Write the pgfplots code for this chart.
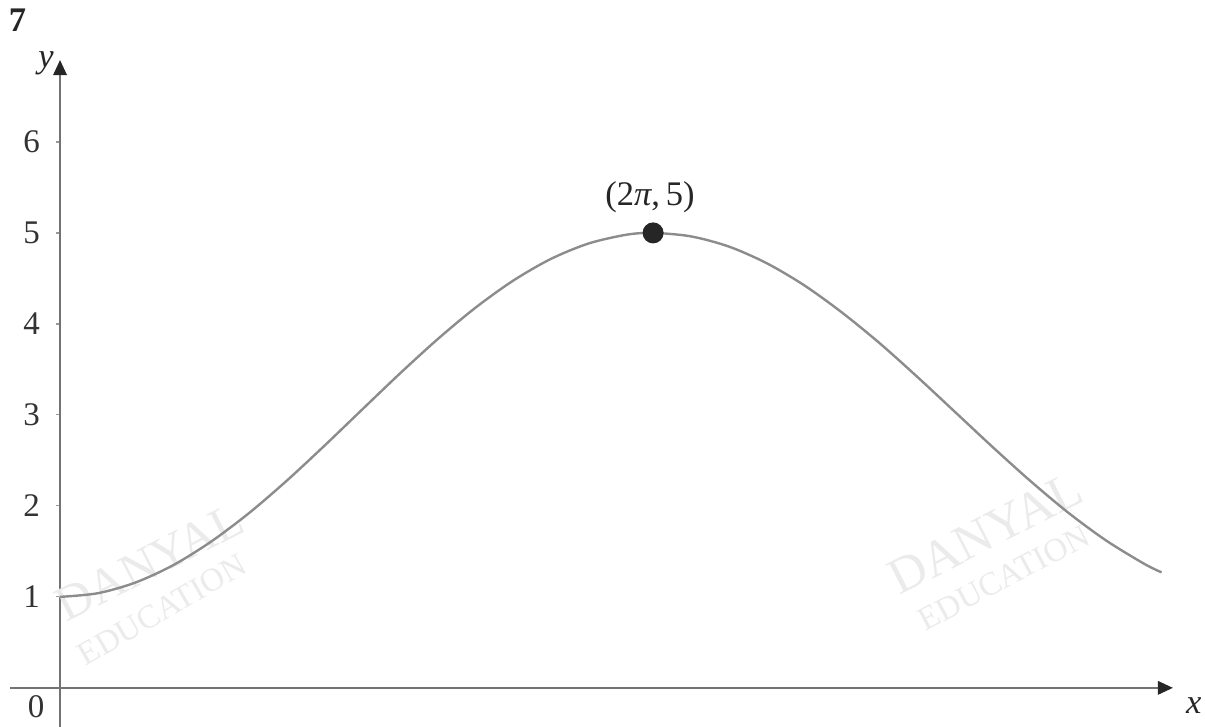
\documentclass[border=0pt]{standalone}
\usepackage{fontspec}
\setmainfont{Liberation Serif}
\usepackage{pgfplots}
\pgfplotsset{compat=1.18}
\usetikzlibrary{arrows.meta}

\begin{document}
\begin{tikzpicture}
\begin{axis}[
  x=31.467pt, y=30.333pt,
  axis lines=middle,
  xmin=-0.53, xmax=11.79,
  ymin=-0.43, ymax=6.90,
  axis line style={black!55, line width=0.6pt,
    -{Triangle[length=5pt,width=4.5pt,color=black!85]}},
  xtick=\empty,
  ytick={1,2,3,4,5,6},
  tick align=outside,
  major tick length=1.2pt,
  tick style={black!40, line width=0.4pt},
  /pgf/number format/assume math mode=true,
  yticklabel style={font=\fontsize{11}{13}\selectfont, text=black!80,
    anchor=east, xshift=-2pt},
  clip=false,
]
  % watermark
  \node[rotate=27, text=black!8, font=\fontsize{16.5}{17}\selectfont]
    at (axis cs:0.95,1.38) {DANYAL};
  \node[rotate=30, text=black!8, font=\fontsize{11}{12}\selectfont]
    at (axis cs:1.08,0.86) {EDUCATION};
  \node[rotate=27, text=black!8, font=\fontsize{17}{18}\selectfont]
    at (axis cs:9.80,1.70) {DANYAL};
  \node[rotate=28, text=black!8, font=\fontsize{11}{12}\selectfont]
    at (axis cs:10.00,1.21) {EDUCATION};

  % the curve
  \addplot[black!45, line width=0.8pt, smooth] coordinates {
    (0.000,1.000) (0.400,1.040) (0.800,1.158) (1.200,1.349)
    (1.600,1.607) (2.000,1.919) (2.400,2.275) (2.800,2.660)
    (3.200,3.058) (3.600,3.454) (4.000,3.832) (4.400,4.177)
    (4.800,4.475) (5.200,4.714) (5.600,4.884) (6.000,4.980)
    (6.283,5.000) (6.683,4.962) (7.083,4.851) (7.483,4.669)
    (7.883,4.425) (8.283,4.126) (8.683,3.788) (9.083,3.417)
    (9.483,3.031) (9.883,2.644) (10.283,2.271) (10.683,1.924)
    (11.083,1.619) (11.483,1.365) (11.670,1.269)
  };
  % maximum point
  \addplot[only marks, mark=*, mark size=3.3pt, black!85] coordinates {(6.2832,5)};

  \node[font=\fontsize{11.5}{13}\selectfont, text=black!85] at (axis cs:6.25,5.39) {(2\textit{π},\,5)};
  \node[font=\bfseries\fontsize{11.5}{13}\selectfont, text=black!85] at (axis cs:-0.45,7.34) {7};
  \node[font=\itshape\fontsize{11.5}{13}\selectfont, text=black!85] at (axis cs:-0.148,6.86) {y};
  \node[font=\itshape\fontsize{11.5}{13}\selectfont, text=black!85] at (axis cs:12.01,-0.20) {x};
  \node[font=\fontsize{11}{13}\selectfont, text=black!80] at (axis cs:-0.254,-0.209) {0};

  \coordinate (bbl) at (axis cs:-0.636,-0.429);
  \coordinate (btr) at (axis cs:12.13,7.56);
\end{axis}
\pgfresetboundingbox
\path[use as bounding box] (bbl) rectangle (btr);
\end{tikzpicture}
\end{document}
